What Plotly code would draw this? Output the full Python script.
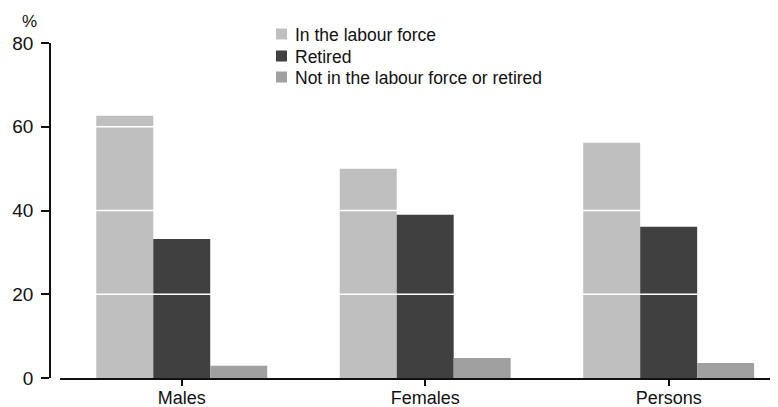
import plotly.graph_objects as go

categories = ["Males", "Females", "Persons"]
series_names = ["In the labour force", "Retired", "Not in the labour force or retired"]
in_labour_force = [62.6, 50.0, 56.2]
retired = [33.2, 39.0, 36.1]
not_in_lf_or_retired = [2.9, 4.8, 3.6]
y_ticks = [0, 20, 40, 60, 80]
grid_values = [20, 40, 60]

colors = ["#bfbfbf", "#404040", "#a0a0a0"]
FONT = "Liberation Sans, Arial, sans-serif"

# page body has an 8px margin; size the figure to fit the window
OFF = 8
W, H = 778 - OFF, 407 - OFF
ML, MR, MT, MB = 50 - OFF, 0, 43 - OFF, 29
plot_w = W - ML - MR
plot_h = H - MT - MB
x0_frac = 10 / plot_w


def px_x(ref_x):
    return (ref_x - OFF - ML) / plot_w


def px_y(ref_y):
    return (H - MB - (ref_y - OFF)) / plot_h


fig = go.Figure()
for name, vals, col in zip(series_names, [in_labour_force, retired, not_in_lf_or_retired], colors):
    fig.add_trace(go.Bar(x=categories, y=vals, name=name, marker=dict(color=col, line=dict(width=0))))

shapes = []
for g in grid_values:
    shapes.append(dict(type="line", xref="paper", yref="y", x0=x0_frac, x1=1, y0=g, y1=g,
                       line=dict(color="white", width=1.5), layer="above"))

annotations = [
    dict(text="%", xref="paper", yref="paper", x=px_x(29), y=px_y(22),
         xanchor="center", yanchor="middle", showarrow=False, font=dict(size=17, color="#111")),
]

# manual legend (swatch + label) to match the compact spacing
legend_rows = [34, 56, 77]
for name, col, ry in zip(series_names, colors, legend_rows):
    shapes.append(dict(type="rect", xref="paper", yref="paper",
                       x0=px_x(276), x1=px_x(287), y0=px_y(ry - 5.5), y1=px_y(ry + 5.5),
                       fillcolor=col, line=dict(width=0), layer="above"))
    annotations.append(dict(text=name, xref="paper", yref="paper", x=px_x(293), y=px_y(ry + 1),
                            xanchor="left", yanchor="middle", showarrow=False,
                            font=dict(size=17.5, color="#111")))

fig.update_layout(
    width=W, height=H,
    margin=dict(l=ML, r=MR, t=MT, b=MB, autoexpand=False),
    paper_bgcolor="white", plot_bgcolor="white",
    barmode="group", bargap=0.298, bargroupgap=0,
    font=dict(family=FONT, size=18, color="#111"),
    showlegend=False,
    xaxis=dict(domain=[x0_frac, 1], range=[-0.5, 2.449], showgrid=False, zeroline=False,
               showline=True, linecolor="#111", linewidth=1.5,
               ticks="outside", ticklen=6, tickcolor="#111", tickwidth=1.5,
               ticklabelstandoff=-3,
               tickfont=dict(size=18, color="#111")),
    yaxis=dict(range=[0, 80], tickvals=y_ticks, showgrid=False, zeroline=False,
               anchor="free", position=0,
               showline=True, linecolor="#111", linewidth=1.5,
               ticks="outside", ticklen=8, tickcolor="#111", tickwidth=1.5,
               ticklabelstandoff=4,
               tickfont=dict(size=19, color="#111")),
    shapes=shapes,
    annotations=annotations,
)

fig.write_html("out.html")
